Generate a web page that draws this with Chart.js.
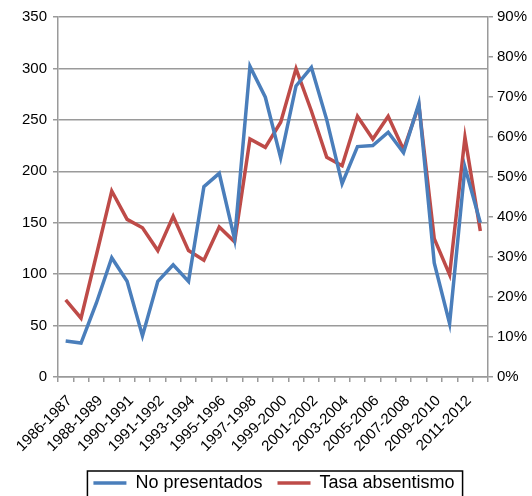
<!DOCTYPE html>
<html>
<head>
<meta charset="utf-8">
<script src="https://cdn.jsdelivr.net/npm/chart.js@4"></script>
<style>
  html, body { margin: 0; padding: 0; background: #fff; }
  #wrap { width: 532px; height: 496px; }
</style>
</head>
<body>
<div id="wrap"><canvas id="absChart" width="532" height="496"></canvas></div>
<script>
// cursos académicos (sólo se rotulan los pares)
const cursos = [
  '1986-1987', '1987-1988', '1988-1989', '1989-1990', '1990-1991', '1990-1991',
  '1991-1992', '1992-1993', '1993-1994', '1994-1995', '1995-1996', '1996-1997',
  '1997-1998', '1998-1999', '1999-2000', '2000-2001', '2001-2002', '2002-2003',
  '2003-2004', '2004-2005', '2005-2006', '2006-2007', '2007-2008', '2008-2009',
  '2009-2010', '2010-2011', '2011-2012', '2012-2013'
];

const noPresentados = [
  35, 33, 72, 116, 93, 40, 93, 109, 93, 185, 198, 134, 302, 272,
  213, 283, 301, 250, 188, 224, 225, 238, 218, 266, 111, 52, 204, 150
];

const tasaAbsentismo = [
  0.193, 0.147, 0.305, 0.465, 0.394, 0.373, 0.316, 0.402, 0.316, 0.292,
  0.375, 0.338, 0.595, 0.574, 0.637, 0.771, 0.665, 0.549, 0.528, 0.652,
  0.595, 0.652, 0.568, 0.679, 0.346, 0.256, 0.599, 0.365
];

const gris = '#9a9a9a';
Chart.defaults.font.family = '"Liberation Sans", Arial, sans-serif';
Chart.defaults.color = '#000';

// recuadro alrededor de la leyenda
const legendBox = {
  id: 'legendBox',
  afterDraw(chart) {
    const boxes = chart.legend && chart.legend.legendHitBoxes;
    if (!boxes || !boxes.length) return;
    const first = boxes[0];
    const last = boxes[boxes.length - 1];
    const x0 = first.left - 6;
    const x1 = last.left + last.width + 8;
    const y0 = first.top - 3;
    const y1 = chart.height + 4;
    const ctx = chart.ctx;
    ctx.save();
    ctx.strokeStyle = '#000';
    ctx.lineWidth = 1.5;
    ctx.strokeRect(x0, y0, x1 - x0, y1 - y0);
    ctx.restore();
  }
};

const cfg = {
  type: 'line',
  data: {
    labels: cursos,
    datasets: [
      {
        label: 'No presentados',
        data: noPresentados,
        borderColor: '#4a7ebb',
        backgroundColor: '#4a7ebb',
        borderWidth: 3.5,
        pointRadius: 0,
        tension: 0,
        yAxisID: 'y',
      },
      {
        label: 'Tasa absentismo',
        data: tasaAbsentismo,
        borderColor: '#be4b48',
        backgroundColor: '#be4b48',
        borderWidth: 3.5,
        pointRadius: 0,
        tension: 0,
        yAxisID: 'y1',
      },
    ],
  },
  options: {
    responsive: false,
    animation: false,
    layout: { padding: { top: 17, left: 16, right: 0, bottom: -6 } },
    plugins: {
      legend: {
        display: true,
        position: 'bottom',
        labels: {
          usePointStyle: true,
          pointStyle: 'line',
          boxWidth: 33,
          pointStyleWidth: 33,
          boxHeight: 14,
          padding: 15,
          font: { size: 18 },
        },
      },
      tooltip: { enabled: false },
    },
    scales: {
      x: {
        offset: true,
        grid: {
          offset: true,
          drawOnChartArea: false,
          color: gris,
          lineWidth: 1.5,
          tickLength: 5,
        },
        border: { color: gris, width: 1.5 },
        ticks: {
          autoSkip: false,
          minRotation: 45,
          maxRotation: 45,
          padding: 10,
          labelOffset: 4,
          font: { size: 15 },
          callback: function (val, i) {
            return i % 2 === 0 ? this.getLabelForValue(val) : '';
          },
        },
        afterFit: (s) => { s.height = 82; },
      },
      y: {
        position: 'left',
        min: 0,
        max: 350,
        ticks: { stepSize: 50, padding: 6, font: { size: 15 } },
        grid: { color: gris, lineWidth: 1.5, tickLength: 5 },
        border: { color: gris, width: 1.5 },
        afterFit: (s) => { s.width = 42; },
      },
      y1: {
        position: 'right',
        min: 0,
        max: 0.9,
        ticks: {
          stepSize: 0.1,
          padding: 4,
          font: { size: 15 },
          callback: (v) => Math.round(v * 100) + '%',
        },
        grid: { drawOnChartArea: false, color: gris, lineWidth: 1.5, tickLength: 5 },
        border: { color: gris, width: 1.5 },
        afterFit: (s) => { s.width = 44; },
      },
    },
  },
  plugins: [legendBox],
};

new Chart(document.getElementById('absChart'), cfg);
</script>
</body>
</html>
